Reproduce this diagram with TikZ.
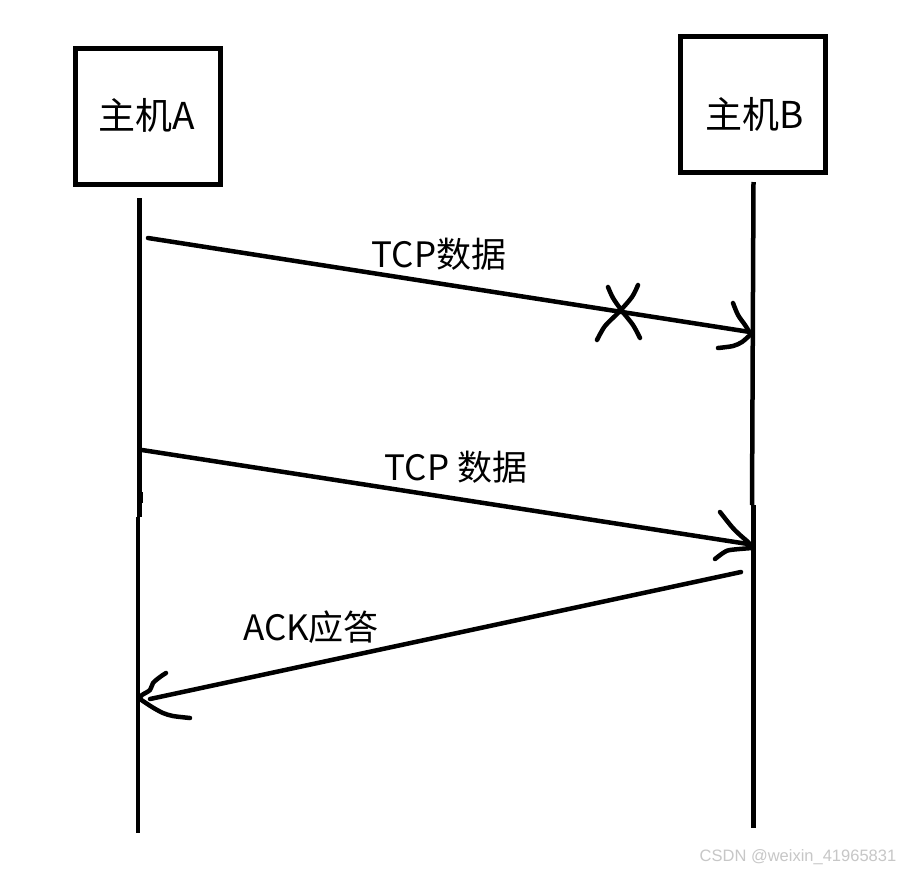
\documentclass[tikz,border=0pt]{standalone}
\usepackage{fontspec}
\newfontfamily\cjk{Noto Sans CJK SC}
\newfontfamily\wm{Liberation Sans}
\begin{document}
\begin{tikzpicture}[x=1pt,y=-1pt,
  hostbox/.style={draw=black,line width=5pt,minimum width=145pt,minimum height=136pt,inner sep=0pt},
  hostlbl/.style={inner sep=0pt,font=\cjk\fontsize{37}{44}\selectfont},
  lbl/.style={font=\cjk\fontsize{35}{42}\selectfont,inner sep=0pt},
  life/.style={line width=4.5pt},
  msg/.style={line width=4.5pt,line cap=round},
  pen/.style={line width=4.5pt,line cap=round,line join=round}]
\useasboundingbox (0,0) rectangle (907,873);
\fill[white] (0,0) rectangle (907,873);
% hosts
\node[hostbox] (A) at (148,116) {};
\node[hostlbl] (Atxt) at (147,115) {主机A};
\node[hostbox] (B) at (752.5,104) {};
\node[hostlbl] (Btxt) at (755,114) {主机B};
% lifelines
\coordinate (Atop) at (139.5,198);
\coordinate (Amid) at (139.5,517);
\coordinate (Amid2) at (138,517);
\coordinate (Abot) at (138,833);
\coordinate (Btop) at (753.5,182);
\coordinate (Bmid) at (752,505);
\coordinate (Bmid2) at (753.5,505);
\coordinate (Bbot) at (753.5,828);
\draw[life] (Atop) -- (Amid);
\draw[life] (Amid2) -- (Abot);
\draw[life] (Btop) -- (Bmid);
\draw[life] (Bmid2) -- (Bbot);
\draw[line width=3pt] (141,492) -- (141,503);
% message 1 (lost)
\coordinate (m1s) at (148,238);
\coordinate (m1e) at (750,332);
\draw[msg] (m1s) -- (m1e);
\node[lbl] (l1) at (439,254) {TCP数据};
\draw[pen] plot[smooth] coordinates {(733,303) (738,315) (745,325) (750,333)};
\draw[pen] plot[smooth] coordinates {(750,335) (742,342) (733,346) (718,348)};
\draw[pen] plot[smooth] coordinates {(608,287) (613,298) (622,311) (633,325) (640,338)};
\draw[pen] plot[smooth] coordinates {(638,285) (632,297) (619,312) (605,326) (597,340)};
% message 2
\coordinate (m2s) at (142,450);
\coordinate (m2e) at (748,544);
\draw[msg] (m2s) -- (m2e);
\node[lbl] (l2) at (456,467) {TCP 数据};
\draw[pen] plot[smooth] coordinates {(720,512) (732,527) (740,535) (748,542) (752,547)};
\draw[pen] plot[smooth] coordinates {(752,548) (730,550) (723,553) (715,559)};
% ack
\coordinate (m3s) at (741,572);
\coordinate (m3e) at (150,699);
\draw[msg] (m3s) -- (m3e);
\node[lbl] (l3) at (311,627) {ACK应答};
\draw[pen] plot[smooth] coordinates {(166,673) (160,677) (153,683) (150,690) (142,695) (140,698)};
\draw[pen] plot[smooth] coordinates {(140,699) (152,707) (163,713) (173,716) (190,718)};
% watermark
\node[font=\wm\fontsize{16.5}{20}\selectfont,text=black!22,inner sep=0pt] (wm) at (798,857) {CSDN @weixin\_41965831};
\end{tikzpicture}
\end{document}
